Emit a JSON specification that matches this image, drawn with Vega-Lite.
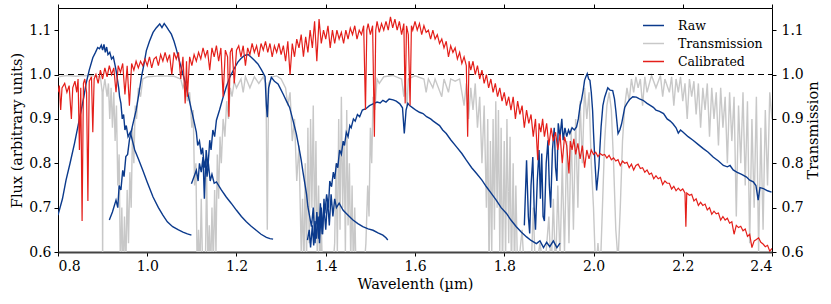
{
"$schema": "https://vega.github.io/schema/vega-lite/v6.json",
"width": 714, "height": 244,
"autosize": {"type": "none"},
"padding": {"left": 58, "top": 8, "right": 59, "bottom": 52},
"background": "white",
"config": {
  "view": {"stroke": "black", "strokeWidth": 1},
  "font": "DejaVu Serif",
  "axis": {"labelFont": "DejaVu Serif", "titleFont": "DejaVu Serif", "labelFontSize": 14, "titleFontSize": 14.5, "titleFontWeight": "normal", "labelColor": "black", "titleColor": "black", "tickColor": "black", "domainColor": "black", "grid": false, "tickSize": 4},
  "legend": {"labelFont": "DejaVu Serif", "labelFontSize": 12.5, "labelColor": "black"}
},
"datasets": {
"trans": [
{"x":0.800,"y":0.995},{"x":0.820,"y":0.998},{"x":0.840,"y":0.996},{"x":0.860,"y":0.998},{"x":0.880,"y":0.997},{"x":0.895,"y":0.995},{"x":0.899,"y":0.96},{"x":0.900,"y":0.55},{"x":0.901,"y":0.96},{"x":0.905,"y":0.99},{"x":0.910,"y":0.95},{"x":0.913,"y":0.98},{"x":0.916,"y":0.9},{"x":0.919,"y":0.97},{"x":0.922,"y":0.88},{"x":0.925,"y":0.96},{"x":0.928,"y":0.85},{"x":0.931,"y":0.93},{"x":0.934,"y":0.75},{"x":0.937,"y":0.82},{"x":0.940,"y":0.55},{"x":0.943,"y":0.7},{"x":0.946,"y":0.55},{"x":0.949,"y":0.68},{"x":0.952,"y":0.56},{"x":0.955,"y":0.74},{"x":0.958,"y":0.62},{"x":0.961,"y":0.78},{"x":0.964,"y":0.7},{"x":0.967,"y":0.88},{"x":0.970,"y":0.8},{"x":0.973,"y":0.93},{"x":0.976,"y":0.9},{"x":0.980,"y":0.97},{"x":0.985,"y":0.95},{"x":0.990,"y":0.99},{"x":1.000,"y":0.995},{"x":1.030,"y":0.997},{"x":1.060,"y":0.996},{"x":1.075,"y":0.99},{"x":1.080,"y":0.97},{"x":1.085,"y":0.985},{"x":1.090,"y":0.94},{"x":1.095,"y":0.96},{"x":1.100,"y":0.88},{"x":1.103,"y":0.92},{"x":1.106,"y":0.75},{"x":1.109,"y":0.8},{"x":1.112,"y":0.55},{"x":1.115,"y":0.65},{"x":1.118,"y":0.55},{"x":1.121,"y":0.72},{"x":1.124,"y":0.57},{"x":1.127,"y":0.6},{"x":1.130,"y":0.55},{"x":1.133,"y":0.78},{"x":1.136,"y":0.56},{"x":1.139,"y":0.66},{"x":1.142,"y":0.55},{"x":1.145,"y":0.7},{"x":1.148,"y":0.57},{"x":1.151,"y":0.74},{"x":1.154,"y":0.6},{"x":1.157,"y":0.82},{"x":1.160,"y":0.72},{"x":1.163,"y":0.86},{"x":1.166,"y":0.8},{"x":1.170,"y":0.9},{"x":1.174,"y":0.86},{"x":1.178,"y":0.94},{"x":1.182,"y":0.9},{"x":1.186,"y":0.97},{"x":1.190,"y":0.95},{"x":1.195,"y":0.985},{"x":1.200,"y":0.97},{"x":1.210,"y":0.99},{"x":1.215,"y":0.96},{"x":1.220,"y":0.995},{"x":1.230,"y":0.97},{"x":1.240,"y":0.995},{"x":1.250,"y":0.98},{"x":1.260,"y":0.995},{"x":1.266,"y":0.98},{"x":1.269,"y":0.65},{"x":1.272,"y":0.98},{"x":1.280,"y":0.995},{"x":1.290,"y":0.997},{"x":1.300,"y":0.99},{"x":1.310,"y":0.97},{"x":1.315,"y":0.93},{"x":1.320,"y":0.96},{"x":1.325,"y":0.85},{"x":1.330,"y":0.9},{"x":1.335,"y":0.76},{"x":1.340,"y":0.84},{"x":1.345,"y":0.6},{"x":1.348,"y":0.72},{"x":1.351,"y":0.55},{"x":1.354,"y":0.8},{"x":1.357,"y":0.58},{"x":1.360,"y":0.88},{"x":1.363,"y":0.62},{"x":1.366,"y":0.9},{"x":1.369,"y":0.7},{"x":1.372,"y":0.93},{"x":1.375,"y":0.65},{"x":1.378,"y":0.85},{"x":1.381,"y":0.58},{"x":1.384,"y":0.75},{"x":1.387,"y":0.55},{"x":1.390,"y":0.66},{"x":1.393,"y":0.55},{"x":1.396,"y":0.6},{"x":1.400,"y":0.55},{"x":1.410,"y":0.58},{"x":1.415,"y":0.55},{"x":1.420,"y":0.62},{"x":1.423,"y":0.8},{"x":1.426,"y":0.6},{"x":1.429,"y":0.9},{"x":1.432,"y":0.65},{"x":1.435,"y":0.95},{"x":1.438,"y":0.7},{"x":1.441,"y":0.85},{"x":1.444,"y":0.6},{"x":1.447,"y":0.92},{"x":1.450,"y":0.66},{"x":1.453,"y":0.8},{"x":1.456,"y":0.58},{"x":1.459,"y":0.75},{"x":1.462,"y":0.55},{"x":1.465,"y":0.7},{"x":1.468,"y":0.55},{"x":1.470,"y":0.58},{"x":1.475,"y":0.55},{"x":1.480,"y":0.6},{"x":1.485,"y":0.55},{"x":1.490,"y":0.62},{"x":1.494,"y":0.75},{"x":1.497,"y":0.68},{"x":1.500,"y":0.88},{"x":1.503,"y":0.8},{"x":1.506,"y":0.95},{"x":1.510,"y":0.92},{"x":1.515,"y":0.99},{"x":1.520,"y":0.98},{"x":1.530,"y":0.995},{"x":1.550,"y":0.998},{"x":1.570,"y":0.99},{"x":1.575,"y":0.95},{"x":1.578,"y":0.99},{"x":1.582,"y":0.93},{"x":1.585,"y":0.99},{"x":1.600,"y":0.997},{"x":1.620,"y":0.99},{"x":1.625,"y":0.96},{"x":1.630,"y":0.99},{"x":1.640,"y":0.97},{"x":1.645,"y":0.99},{"x":1.660,"y":0.95},{"x":1.665,"y":0.99},{"x":1.675,"y":0.96},{"x":1.680,"y":0.99},{"x":1.690,"y":0.985},{"x":1.700,"y":0.99},{"x":1.710,"y":0.93},{"x":1.715,"y":0.98},{"x":1.720,"y":0.9},{"x":1.725,"y":0.97},{"x":1.730,"y":0.92},{"x":1.735,"y":0.98},{"x":1.740,"y":0.88},{"x":1.745,"y":0.95},{"x":1.750,"y":0.8},{"x":1.755,"y":0.93},{"x":1.760,"y":0.7},{"x":1.763,"y":0.9},{"x":1.766,"y":0.55},{"x":1.769,"y":0.85},{"x":1.772,"y":0.6},{"x":1.775,"y":0.9},{"x":1.778,"y":0.65},{"x":1.781,"y":0.94},{"x":1.784,"y":0.7},{"x":1.787,"y":0.92},{"x":1.790,"y":0.6},{"x":1.793,"y":0.88},{"x":1.796,"y":0.55},{"x":1.800,"y":0.85},{"x":1.803,"y":0.58},{"x":1.806,"y":0.9},{"x":1.810,"y":0.62},{"x":1.813,"y":0.86},{"x":1.816,"y":0.55},{"x":1.820,"y":0.8},{"x":1.823,"y":0.55},{"x":1.826,"y":0.75},{"x":1.830,"y":0.55},{"x":1.840,"y":0.65},{"x":1.845,"y":0.55},{"x":1.850,"y":0.6},{"x":1.860,"y":0.55},{"x":1.865,"y":0.7},{"x":1.870,"y":0.55},{"x":1.880,"y":0.62},{"x":1.890,"y":0.55},{"x":1.900,"y":0.68},{"x":1.905,"y":0.55},{"x":1.910,"y":0.72},{"x":1.915,"y":0.55},{"x":1.920,"y":0.75},{"x":1.925,"y":0.58},{"x":1.930,"y":0.8},{"x":1.935,"y":0.6},{"x":1.940,"y":0.85},{"x":1.945,"y":0.62},{"x":1.950,"y":0.88},{"x":1.955,"y":0.65},{"x":1.960,"y":0.9},{"x":1.965,"y":0.7},{"x":1.970,"y":0.94},{"x":1.975,"y":0.8},{"x":1.980,"y":0.97},{"x":1.985,"y":0.9},{"x":1.990,"y":0.96},{"x":1.995,"y":0.8},{"x":2.000,"y":0.7},{"x":2.005,"y":0.55},{"x":2.010,"y":0.62},{"x":2.015,"y":0.55},{"x":2.020,"y":0.7},{"x":2.025,"y":0.85},{"x":2.030,"y":0.93},{"x":2.035,"y":0.96},{"x":2.040,"y":0.92},{"x":2.045,"y":0.8},{"x":2.050,"y":0.65},{"x":2.055,"y":0.58},{"x":2.060,"y":0.7},{"x":2.065,"y":0.85},{"x":2.070,"y":0.93},{"x":2.075,"y":0.97},{"x":2.080,"y":0.94},{"x":2.085,"y":0.99},{"x":2.090,"y":0.96},{"x":2.095,"y":0.995},{"x":2.100,"y":0.97},{"x":2.105,"y":0.99},{"x":2.110,"y":0.93},{"x":2.115,"y":0.995},{"x":2.120,"y":0.96},{"x":2.130,"y":0.998},{"x":2.140,"y":0.97},{"x":2.150,"y":0.998},{"x":2.155,"y":0.95},{"x":2.160,"y":0.99},{"x":2.170,"y":0.96},{"x":2.175,"y":0.995},{"x":2.180,"y":0.93},{"x":2.185,"y":0.99},{"x":2.190,"y":0.96},{"x":2.195,"y":0.995},{"x":2.200,"y":0.94},{"x":2.205,"y":0.98},{"x":2.210,"y":0.9},{"x":2.215,"y":0.99},{"x":2.220,"y":0.95},{"x":2.225,"y":0.985},{"x":2.230,"y":0.91},{"x":2.235,"y":0.98},{"x":2.240,"y":0.88},{"x":2.245,"y":0.97},{"x":2.250,"y":0.92},{"x":2.255,"y":0.98},{"x":2.260,"y":0.86},{"x":2.265,"y":0.97},{"x":2.270,"y":0.9},{"x":2.275,"y":0.96},{"x":2.280,"y":0.84},{"x":2.285,"y":0.97},{"x":2.290,"y":0.88},{"x":2.295,"y":0.95},{"x":2.300,"y":0.8},{"x":2.305,"y":0.96},{"x":2.310,"y":0.85},{"x":2.315,"y":0.95},{"x":2.320,"y":0.68},{"x":2.325,"y":0.93},{"x":2.330,"y":0.8},{"x":2.335,"y":0.96},{"x":2.340,"y":0.75},{"x":2.345,"y":0.94},{"x":2.350,"y":0.62},{"x":2.355,"y":0.9},{"x":2.360,"y":0.7},{"x":2.365,"y":0.95},{"x":2.370,"y":0.6},{"x":2.375,"y":0.88},{"x":2.380,"y":0.65},{"x":2.385,"y":0.92},{"x":2.390,"y":0.75},{"x":2.395,"y":0.96},{"x":2.400,"y":0.9}
],
"raw": [
{"g":"A","x":0.800,"y":0.683},{"g":"A","x":0.810,"y":0.72},{"g":"A","x":0.818,"y":0.762},{"g":"A","x":0.827,"y":0.80},{"g":"A","x":0.837,"y":0.845},{"g":"A","x":0.845,"y":0.885},{"g":"A","x":0.852,"y":0.919},{"g":"A","x":0.858,"y":0.95},{"g":"A","x":0.863,"y":0.98},{"g":"A","x":0.870,"y":1.01},{"g":"A","x":0.878,"y":1.038},{"g":"A","x":0.884,"y":1.05},{"g":"A","x":0.889,"y":1.061},{"g":"A","x":0.893,"y":1.058},{"g":"A","x":0.897,"y":1.066},{"g":"A","x":0.900,"y":1.055},{"g":"A","x":0.903,"y":1.068},{"g":"A","x":0.906,"y":1.05},{"g":"A","x":0.909,"y":1.062},{"g":"A","x":0.912,"y":1.045},{"g":"A","x":0.916,"y":1.05},{"g":"A","x":0.920,"y":1.035},{"g":"A","x":0.924,"y":1.04},{"g":"A","x":0.927,"y":1.025},{"g":"A","x":0.930,"y":1.01},{"g":"A","x":0.933,"y":0.99},{"g":"A","x":0.936,"y":0.97},{"g":"A","x":0.938,"y":0.95},{"g":"A","x":0.941,"y":0.935},{"g":"A","x":0.944,"y":0.90},{"g":"A","x":0.947,"y":0.91},{"g":"A","x":0.950,"y":0.875},{"g":"A","x":0.953,"y":0.885},{"g":"A","x":0.957,"y":0.86},{"g":"A","x":0.962,"y":0.87},{"g":"A","x":0.967,"y":0.85},{"g":"A","x":0.972,"y":0.83},{"g":"A","x":0.980,"y":0.81},{"g":"A","x":0.990,"y":0.784},{"g":"A","x":1.000,"y":0.757},{"g":"A","x":1.013,"y":0.724},{"g":"A","x":1.025,"y":0.70},{"g":"A","x":1.035,"y":0.683},{"g":"A","x":1.045,"y":0.668},{"g":"A","x":1.057,"y":0.657},{"g":"A","x":1.070,"y":0.65},{"g":"A","x":1.080,"y":0.645},{"g":"A","x":1.090,"y":0.641},{"g":"A","x":1.099,"y":0.638},
{"g":"B","x":0.915,"y":0.672},{"g":"B","x":0.922,"y":0.69},{"g":"B","x":0.930,"y":0.717},{"g":"B","x":0.934,"y":0.70},{"g":"B","x":0.937,"y":0.75},{"g":"B","x":0.941,"y":0.74},{"g":"B","x":0.945,"y":0.784},{"g":"B","x":0.948,"y":0.77},{"g":"B","x":0.952,"y":0.815},{"g":"B","x":0.956,"y":0.82},{"g":"B","x":0.960,"y":0.852},{"g":"B","x":0.967,"y":0.885},{"g":"B","x":0.975,"y":0.919},{"g":"B","x":0.981,"y":0.955},{"g":"B","x":0.987,"y":0.994},{"g":"B","x":0.993,"y":1.025},{"g":"B","x":0.998,"y":1.054},{"g":"B","x":1.005,"y":1.075},{"g":"B","x":1.013,"y":1.095},{"g":"B","x":1.020,"y":1.105},{"g":"B","x":1.028,"y":1.114},{"g":"B","x":1.033,"y":1.106},{"g":"B","x":1.038,"y":1.115},{"g":"B","x":1.043,"y":1.108},{"g":"B","x":1.048,"y":1.10},{"g":"B","x":1.054,"y":1.091},{"g":"B","x":1.060,"y":1.075},{"g":"B","x":1.065,"y":1.058},{"g":"B","x":1.070,"y":1.038},{"g":"B","x":1.076,"y":1.016},{"g":"B","x":1.083,"y":0.99},{"g":"B","x":1.091,"y":0.957},{"g":"B","x":1.098,"y":0.925},{"g":"B","x":1.106,"y":0.889},{"g":"B","x":1.110,"y":0.87},{"g":"B","x":1.113,"y":0.84},{"g":"B","x":1.117,"y":0.85},{"g":"B","x":1.121,"y":0.82},{"g":"B","x":1.124,"y":0.835},{"g":"B","x":1.128,"y":0.79},{"g":"B","x":1.131,"y":0.81},{"g":"B","x":1.134,"y":0.77},{"g":"B","x":1.137,"y":0.80},{"g":"B","x":1.141,"y":0.76},{"g":"B","x":1.145,"y":0.775},{"g":"B","x":1.150,"y":0.755},{"g":"B","x":1.155,"y":0.758},{"g":"B","x":1.166,"y":0.74},{"g":"B","x":1.177,"y":0.724},{"g":"B","x":1.188,"y":0.71},{"g":"B","x":1.200,"y":0.694},{"g":"B","x":1.211,"y":0.68},{"g":"B","x":1.222,"y":0.668},{"g":"B","x":1.233,"y":0.658},{"g":"B","x":1.244,"y":0.649},{"g":"B","x":1.255,"y":0.64},{"g":"B","x":1.267,"y":0.633},{"g":"B","x":1.275,"y":0.63},{"g":"B","x":1.282,"y":0.629},
{"g":"C","x":1.099,"y":0.754},{"g":"C","x":1.105,"y":0.77},{"g":"C","x":1.110,"y":0.784},{"g":"C","x":1.114,"y":0.76},{"g":"C","x":1.117,"y":0.80},{"g":"C","x":1.121,"y":0.78},{"g":"C","x":1.125,"y":0.814},{"g":"C","x":1.128,"y":0.72},{"g":"C","x":1.132,"y":0.83},{"g":"C","x":1.136,"y":0.79},{"g":"C","x":1.140,"y":0.852},{"g":"C","x":1.143,"y":0.83},{"g":"C","x":1.147,"y":0.875},{"g":"C","x":1.151,"y":0.86},{"g":"C","x":1.155,"y":0.897},{"g":"C","x":1.162,"y":0.92},{"g":"C","x":1.170,"y":0.949},{"g":"C","x":1.177,"y":0.972},{"g":"C","x":1.185,"y":0.994},{"g":"C","x":1.194,"y":1.012},{"g":"C","x":1.203,"y":1.028},{"g":"C","x":1.210,"y":1.036},{"g":"C","x":1.218,"y":1.043},{"g":"C","x":1.226,"y":1.045},{"g":"C","x":1.233,"y":1.039},{"g":"C","x":1.240,"y":1.032},{"g":"C","x":1.248,"y":1.024},{"g":"C","x":1.255,"y":1.012},{"g":"C","x":1.259,"y":1.005},{"g":"C","x":1.264,"y":0.995},{"g":"C","x":1.267,"y":0.93},{"g":"C","x":1.269,"y":0.904},{"g":"C","x":1.272,"y":0.97},{"g":"C","x":1.278,"y":0.994},{"g":"C","x":1.285,"y":0.985},{"g":"C","x":1.293,"y":0.979},{"g":"C","x":1.297,"y":0.971},{"g":"C","x":1.305,"y":0.955},{"g":"C","x":1.312,"y":0.94},{"g":"C","x":1.319,"y":0.926},{"g":"C","x":1.327,"y":0.895},{"g":"C","x":1.334,"y":0.867},{"g":"C","x":1.340,"y":0.835},{"g":"C","x":1.345,"y":0.807},{"g":"C","x":1.349,"y":0.78},{"g":"C","x":1.353,"y":0.755},{"g":"C","x":1.357,"y":0.73},{"g":"C","x":1.360,"y":0.702},{"g":"C","x":1.364,"y":0.68},{"g":"C","x":1.368,"y":0.657},{"g":"C","x":1.372,"y":0.70},{"g":"C","x":1.376,"y":0.62},{"g":"C","x":1.380,"y":0.69},{"g":"C","x":1.384,"y":0.63},{"g":"C","x":1.388,"y":0.71},{"g":"C","x":1.392,"y":0.64},{"g":"C","x":1.396,"y":0.70},{"g":"C","x":1.400,"y":0.65},{"g":"C","x":1.404,"y":0.72},{"g":"C","x":1.408,"y":0.66},{"g":"C","x":1.412,"y":0.73},{"g":"C","x":1.416,"y":0.68},{"g":"C","x":1.420,"y":0.72},{"g":"C","x":1.424,"y":0.70},{"g":"C","x":1.430,"y":0.71},{"g":"C","x":1.439,"y":0.694},{"g":"C","x":1.450,"y":0.683},{"g":"C","x":1.461,"y":0.672},{"g":"C","x":1.472,"y":0.664},{"g":"C","x":1.483,"y":0.657},{"g":"C","x":1.495,"y":0.652},{"g":"C","x":1.506,"y":0.649},{"g":"C","x":1.517,"y":0.643},{"g":"C","x":1.528,"y":0.638},{"g":"C","x":1.535,"y":0.632},{"g":"C","x":1.539,"y":0.627},
{"g":"D","x":1.359,"y":0.627},{"g":"D","x":1.363,"y":0.65},{"g":"D","x":1.366,"y":0.61},{"g":"D","x":1.370,"y":0.66},{"g":"D","x":1.373,"y":0.615},{"g":"D","x":1.376,"y":0.67},{"g":"D","x":1.379,"y":0.63},{"g":"D","x":1.383,"y":0.68},{"g":"D","x":1.386,"y":0.62},{"g":"D","x":1.390,"y":0.70},{"g":"D","x":1.393,"y":0.64},{"g":"D","x":1.396,"y":0.72},{"g":"D","x":1.398,"y":0.687},{"g":"D","x":1.402,"y":0.73},{"g":"D","x":1.406,"y":0.70},{"g":"D","x":1.409,"y":0.76},{"g":"D","x":1.413,"y":0.747},{"g":"D","x":1.417,"y":0.78},{"g":"D","x":1.420,"y":0.765},{"g":"D","x":1.424,"y":0.80},{"g":"D","x":1.427,"y":0.79},{"g":"D","x":1.431,"y":0.83},{"g":"D","x":1.435,"y":0.82},{"g":"D","x":1.439,"y":0.85},{"g":"D","x":1.442,"y":0.84},{"g":"D","x":1.446,"y":0.87},{"g":"D","x":1.450,"y":0.86},{"g":"D","x":1.454,"y":0.885},{"g":"D","x":1.457,"y":0.88},{"g":"D","x":1.462,"y":0.90},{"g":"D","x":1.466,"y":0.895},{"g":"D","x":1.471,"y":0.91},{"g":"D","x":1.476,"y":0.905},{"g":"D","x":1.482,"y":0.92},{"g":"D","x":1.490,"y":0.923},{"g":"D","x":1.498,"y":0.93},{"g":"D","x":1.506,"y":0.934},{"g":"D","x":1.515,"y":0.938},{"g":"D","x":1.522,"y":0.936},{"g":"D","x":1.528,"y":0.942},{"g":"D","x":1.535,"y":0.938},{"g":"D","x":1.542,"y":0.945},{"g":"D","x":1.551,"y":0.943},{"g":"D","x":1.558,"y":0.94},{"g":"D","x":1.566,"y":0.934},{"g":"D","x":1.572,"y":0.925},{"g":"D","x":1.576,"y":0.867},{"g":"D","x":1.580,"y":0.92},{"g":"D","x":1.584,"y":0.935},{"g":"D","x":1.588,"y":0.93},{"g":"D","x":1.595,"y":0.925},{"g":"D","x":1.603,"y":0.919},{"g":"D","x":1.610,"y":0.915},{"g":"D","x":1.618,"y":0.912},{"g":"D","x":1.626,"y":0.905},{"g":"D","x":1.635,"y":0.90},{"g":"D","x":1.641,"y":0.895},{"g":"D","x":1.648,"y":0.89},{"g":"D","x":1.655,"y":0.885},{"g":"D","x":1.662,"y":0.875},{"g":"D","x":1.670,"y":0.867},{"g":"D","x":1.680,"y":0.853},{"g":"D","x":1.693,"y":0.837},{"g":"D","x":1.705,"y":0.822},{"g":"D","x":1.715,"y":0.807},{"g":"D","x":1.727,"y":0.79},{"g":"D","x":1.738,"y":0.777},{"g":"D","x":1.750,"y":0.762},{"g":"D","x":1.760,"y":0.747},{"g":"D","x":1.771,"y":0.732},{"g":"D","x":1.782,"y":0.717},{"g":"D","x":1.793,"y":0.70},{"g":"D","x":1.805,"y":0.687},{"g":"D","x":1.815,"y":0.672},{"g":"D","x":1.827,"y":0.657},{"g":"D","x":1.838,"y":0.645},{"g":"D","x":1.850,"y":0.634},{"g":"D","x":1.860,"y":0.626},{"g":"D","x":1.872,"y":0.619},{"g":"D","x":1.880,"y":0.625},{"g":"D","x":1.888,"y":0.61},{"g":"D","x":1.895,"y":0.622},{"g":"D","x":1.902,"y":0.612},{"g":"D","x":1.910,"y":0.625},{"g":"D","x":1.918,"y":0.61},{"g":"D","x":1.925,"y":0.62},
{"g":"E","x":1.845,"y":0.66},{"g":"E","x":1.850,"y":0.807},{"g":"E","x":1.854,"y":0.68},{"g":"E","x":1.857,"y":0.642},{"g":"E","x":1.860,"y":0.75},{"g":"E","x":1.864,"y":0.814},{"g":"E","x":1.867,"y":0.70},{"g":"E","x":1.870,"y":0.65},{"g":"E","x":1.874,"y":0.76},{"g":"E","x":1.878,"y":0.83},{"g":"E","x":1.881,"y":0.72},{"g":"E","x":1.884,"y":0.822},{"g":"E","x":1.887,"y":0.68},{"g":"E","x":1.890,"y":0.67},{"g":"E","x":1.894,"y":0.80},{"g":"E","x":1.898,"y":0.852},{"g":"E","x":1.901,"y":0.75},{"g":"E","x":1.904,"y":0.70},{"g":"E","x":1.908,"y":0.83},{"g":"E","x":1.912,"y":0.88},{"g":"E","x":1.915,"y":0.79},{"g":"E","x":1.918,"y":0.76},{"g":"E","x":1.921,"y":0.89},{"g":"E","x":1.925,"y":0.86},{"g":"E","x":1.929,"y":0.90},{"g":"E","x":1.932,"y":0.852},{"g":"E","x":1.936,"y":0.88},{"g":"E","x":1.940,"y":0.86},{"g":"E","x":1.944,"y":0.875},{"g":"E","x":1.947,"y":0.867},{"g":"E","x":1.952,"y":0.88},{"g":"E","x":1.957,"y":0.875},{"g":"E","x":1.962,"y":0.882},{"g":"E","x":1.966,"y":0.90},{"g":"E","x":1.970,"y":0.93},{"g":"E","x":1.973,"y":0.942},{"g":"E","x":1.977,"y":0.965},{"g":"E","x":1.980,"y":0.987},{"g":"E","x":1.983,"y":0.995},{"g":"E","x":1.986,"y":1.002},{"g":"E","x":1.989,"y":0.99},{"g":"E","x":1.992,"y":0.987},{"g":"E","x":1.995,"y":0.96},{"g":"E","x":1.998,"y":0.919},{"g":"E","x":2.000,"y":0.87},{"g":"E","x":2.003,"y":0.807},{"g":"E","x":2.007,"y":0.739},{"g":"E","x":2.012,"y":0.792},{"g":"E","x":2.017,"y":0.882},{"g":"E","x":2.021,"y":0.93},{"g":"E","x":2.025,"y":0.949},{"g":"E","x":2.032,"y":0.97},{"g":"E","x":2.037,"y":0.965},{"g":"E","x":2.043,"y":0.964},{"g":"E","x":2.047,"y":0.945},{"g":"E","x":2.050,"y":0.919},{"g":"E","x":2.055,"y":0.867},{"g":"E","x":2.059,"y":0.875},{"g":"E","x":2.063,"y":0.889},{"g":"E","x":2.070,"y":0.926},{"g":"E","x":2.075,"y":0.935},{"g":"E","x":2.081,"y":0.944},{"g":"E","x":2.088,"y":0.95},{"g":"E","x":2.096,"y":0.949},{"g":"E","x":2.103,"y":0.945},{"g":"E","x":2.111,"y":0.942},{"g":"E","x":2.120,"y":0.935},{"g":"E","x":2.128,"y":0.93},{"g":"E","x":2.134,"y":0.926},{"g":"E","x":2.140,"y":0.92},{"g":"E","x":2.148,"y":0.917},{"g":"E","x":2.157,"y":0.912},{"g":"E","x":2.165,"y":0.90},{"g":"E","x":2.172,"y":0.895},{"g":"E","x":2.178,"y":0.889},{"g":"E","x":2.185,"y":0.88},{"g":"E","x":2.190,"y":0.868},{"g":"E","x":2.195,"y":0.875},{"g":"E","x":2.201,"y":0.87},{"g":"E","x":2.212,"y":0.86},{"g":"E","x":2.223,"y":0.852},{"g":"E","x":2.235,"y":0.842},{"g":"E","x":2.246,"y":0.833},{"g":"E","x":2.257,"y":0.825},{"g":"E","x":2.268,"y":0.814},{"g":"E","x":2.280,"y":0.805},{"g":"E","x":2.291,"y":0.795},{"g":"E","x":2.300,"y":0.792},{"g":"E","x":2.306,"y":0.795},{"g":"E","x":2.313,"y":0.785},{"g":"E","x":2.321,"y":0.78},{"g":"E","x":2.332,"y":0.775},{"g":"E","x":2.343,"y":0.769},{"g":"E","x":2.350,"y":0.762},{"g":"E","x":2.358,"y":0.758},{"g":"E","x":2.364,"y":0.75},{"g":"E","x":2.369,"y":0.717},{"g":"E","x":2.373,"y":0.745},{"g":"E","x":2.381,"y":0.743},{"g":"E","x":2.390,"y":0.738},{"g":"E","x":2.399,"y":0.735}
],
"cal": [
{"x":0.800,"y":0.96},{"x":0.803,"y":0.975},{"x":0.806,"y":0.92},{"x":0.809,"y":0.97},{"x":0.815,"y":0.98},{"x":0.820,"y":0.96},{"x":0.825,"y":0.975},{"x":0.830,"y":0.90},{"x":0.833,"y":0.97},{"x":0.838,"y":0.985},{"x":0.842,"y":0.96},{"x":0.845,"y":0.99},{"x":0.848,"y":0.83},{"x":0.851,"y":0.97},{"x":0.854,"y":0.67},{"x":0.857,"y":0.98},{"x":0.860,"y":0.99},{"x":0.864,"y":0.96},{"x":0.867,"y":0.715},{"x":0.870,"y":0.985},{"x":0.875,"y":0.995},{"x":0.878,"y":0.87},{"x":0.881,"y":0.99},{"x":0.885,"y":1.0},{"x":0.890,"y":0.98},{"x":0.895,"y":1.01},{"x":0.900,"y":0.99},{"x":0.905,"y":1.015},{"x":0.910,"y":0.995},{"x":0.915,"y":1.02},{"x":0.920,"y":1.0},{"x":0.925,"y":1.015},{"x":0.930,"y":0.96},{"x":0.935,"y":1.02},{"x":0.940,"y":1.005},{"x":0.945,"y":1.025},{"x":0.950,"y":0.955},{"x":0.955,"y":1.02},{"x":0.960,"y":0.93},{"x":0.965,"y":1.025},{"x":0.970,"y":1.01},{"x":0.975,"y":1.03},{"x":0.980,"y":1.015},{"x":0.985,"y":1.03},{"x":0.990,"y":1.02},{"x":0.995,"y":1.035},{"x":1.000,"y":1.02},{"x":1.005,"y":1.04},{"x":1.010,"y":1.015},{"x":1.015,"y":1.035},{"x":1.020,"y":1.04},{"x":1.025,"y":1.02},{"x":1.030,"y":1.045},{"x":1.035,"y":1.03},{"x":1.040,"y":1.05},{"x":1.045,"y":1.03},{"x":1.050,"y":1.045},{"x":1.055,"y":1.0},{"x":1.060,"y":1.05},{"x":1.065,"y":1.035},{"x":1.070,"y":1.05},{"x":1.075,"y":0.99},{"x":1.080,"y":1.04},{"x":1.085,"y":0.935},{"x":1.088,"y":1.03},{"x":1.090,"y":0.95},{"x":1.095,"y":1.04},{"x":1.100,"y":1.02},{"x":1.105,"y":1.045},{"x":1.110,"y":1.03},{"x":1.115,"y":1.05},{"x":1.120,"y":1.035},{"x":1.125,"y":1.06},{"x":1.130,"y":1.04},{"x":1.135,"y":1.055},{"x":1.140,"y":1.01},{"x":1.145,"y":1.06},{"x":1.150,"y":1.04},{"x":1.155,"y":1.065},{"x":1.160,"y":1.03},{"x":1.165,"y":1.06},{"x":1.170,"y":0.95},{"x":1.175,"y":1.055},{"x":1.180,"y":1.04},{"x":1.183,"y":0.905},{"x":1.186,"y":1.05},{"x":1.190,"y":1.06},{"x":1.195,"y":0.98},{"x":1.200,"y":1.055},{"x":1.205,"y":1.065},{"x":1.210,"y":1.04},{"x":1.215,"y":1.065},{"x":1.220,"y":1.02},{"x":1.225,"y":1.06},{"x":1.230,"y":1.045},{"x":1.235,"y":1.07},{"x":1.240,"y":1.05},{"x":1.245,"y":1.065},{"x":1.250,"y":1.04},{"x":1.255,"y":1.07},{"x":1.260,"y":1.055},{"x":1.265,"y":1.075},{"x":1.270,"y":1.05},{"x":1.275,"y":1.07},{"x":1.280,"y":1.04},{"x":1.285,"y":1.065},{"x":1.290,"y":1.05},{"x":1.295,"y":1.07},{"x":1.300,"y":1.045},{"x":1.305,"y":1.065},{"x":1.310,"y":1.03},{"x":1.315,"y":1.075},{"x":1.320,"y":1.0},{"x":1.325,"y":1.07},{"x":1.330,"y":1.04},{"x":1.335,"y":1.08},{"x":1.340,"y":1.06},{"x":1.345,"y":1.09},{"x":1.350,"y":1.04},{"x":1.355,"y":1.085},{"x":1.360,"y":1.05},{"x":1.365,"y":1.10},{"x":1.370,"y":1.06},{"x":1.375,"y":1.12},{"x":1.380,"y":1.03},{"x":1.385,"y":1.125},{"x":1.390,"y":1.07},{"x":1.395,"y":1.10},{"x":1.400,"y":1.08},{"x":1.405,"y":1.11},{"x":1.410,"y":1.06},{"x":1.415,"y":1.10},{"x":1.420,"y":1.07},{"x":1.425,"y":1.10},{"x":1.430,"y":1.08},{"x":1.435,"y":1.095},{"x":1.440,"y":1.07},{"x":1.445,"y":1.10},{"x":1.450,"y":1.08},{"x":1.455,"y":1.105},{"x":1.460,"y":1.09},{"x":1.465,"y":1.11},{"x":1.470,"y":1.08},{"x":1.475,"y":1.10},{"x":1.480,"y":1.09},{"x":1.485,"y":1.11},{"x":1.489,"y":0.92},{"x":1.492,"y":1.10},{"x":1.495,"y":1.115},{"x":1.500,"y":1.09},{"x":1.505,"y":1.11},{"x":1.509,"y":0.86},{"x":1.512,"y":1.10},{"x":1.515,"y":1.12},{"x":1.520,"y":1.095},{"x":1.525,"y":1.115},{"x":1.530,"y":1.10},{"x":1.535,"y":1.12},{"x":1.540,"y":1.10},{"x":1.545,"y":1.13},{"x":1.550,"y":1.105},{"x":1.555,"y":1.125},{"x":1.560,"y":1.10},{"x":1.565,"y":1.12},{"x":1.570,"y":1.09},{"x":1.575,"y":1.115},{"x":1.578,"y":0.935},{"x":1.581,"y":1.11},{"x":1.585,"y":1.09},{"x":1.589,"y":0.93},{"x":1.592,"y":1.11},{"x":1.595,"y":1.10},{"x":1.600,"y":1.12},{"x":1.605,"y":1.10},{"x":1.610,"y":1.115},{"x":1.615,"y":1.09},{"x":1.620,"y":1.11},{"x":1.625,"y":1.095},{"x":1.630,"y":1.10},{"x":1.635,"y":1.08},{"x":1.640,"y":1.10},{"x":1.645,"y":1.08},{"x":1.650,"y":1.09},{"x":1.655,"y":1.07},{"x":1.660,"y":1.08},{"x":1.665,"y":1.06},{"x":1.670,"y":1.075},{"x":1.675,"y":1.04},{"x":1.680,"y":1.065},{"x":1.685,"y":1.05},{"x":1.690,"y":1.06},{"x":1.695,"y":1.035},{"x":1.700,"y":1.05},{"x":1.705,"y":1.025},{"x":1.710,"y":1.04},{"x":1.715,"y":1.02},{"x":1.718,"y":0.86},{"x":1.721,"y":1.03},{"x":1.725,"y":1.01},{"x":1.730,"y":1.03},{"x":1.735,"y":1.0},{"x":1.740,"y":1.02},{"x":1.745,"y":0.99},{"x":1.750,"y":1.01},{"x":1.755,"y":0.98},{"x":1.760,"y":1.0},{"x":1.765,"y":0.97},{"x":1.770,"y":0.99},{"x":1.775,"y":0.96},{"x":1.780,"y":0.98},{"x":1.785,"y":0.95},{"x":1.790,"y":0.97},{"x":1.795,"y":0.94},{"x":1.800,"y":0.96},{"x":1.805,"y":0.93},{"x":1.810,"y":0.95},{"x":1.815,"y":0.92},{"x":1.820,"y":0.95},{"x":1.825,"y":0.90},{"x":1.830,"y":0.94},{"x":1.835,"y":0.91},{"x":1.840,"y":0.93},{"x":1.845,"y":0.88},{"x":1.850,"y":0.92},{"x":1.855,"y":0.89},{"x":1.860,"y":0.91},{"x":1.865,"y":0.86},{"x":1.870,"y":0.90},{"x":1.875,"y":0.807},{"x":1.878,"y":0.89},{"x":1.882,"y":0.87},{"x":1.886,"y":0.90},{"x":1.890,"y":0.86},{"x":1.895,"y":0.89},{"x":1.900,"y":0.84},{"x":1.905,"y":0.88},{"x":1.910,"y":0.85},{"x":1.915,"y":0.87},{"x":1.920,"y":0.83},{"x":1.925,"y":0.865},{"x":1.930,"y":0.80},{"x":1.935,"y":0.86},{"x":1.940,"y":0.84},{"x":1.945,"y":0.777},{"x":1.948,"y":0.85},{"x":1.952,"y":0.83},{"x":1.956,"y":0.855},{"x":1.960,"y":0.82},{"x":1.965,"y":0.845},{"x":1.970,"y":0.81},{"x":1.975,"y":0.84},{"x":1.980,"y":0.79},{"x":1.985,"y":0.83},{"x":1.990,"y":0.81},{"x":1.995,"y":0.83},{"x":2.000,"y":0.82},{"x":2.005,"y":0.825},{"x":2.010,"y":0.815},{"x":2.015,"y":0.822},{"x":2.020,"y":0.818},{"x":2.025,"y":0.82},{"x":2.030,"y":0.812},{"x":2.035,"y":0.818},{"x":2.040,"y":0.808},{"x":2.045,"y":0.812},{"x":2.050,"y":0.805},{"x":2.055,"y":0.808},{"x":2.060,"y":0.795},{"x":2.065,"y":0.805},{"x":2.070,"y":0.80},{"x":2.075,"y":0.802},{"x":2.080,"y":0.79},{"x":2.085,"y":0.798},{"x":2.090,"y":0.785},{"x":2.095,"y":0.795},{"x":2.100,"y":0.798},{"x":2.105,"y":0.788},{"x":2.110,"y":0.79},{"x":2.115,"y":0.78},{"x":2.120,"y":0.785},{"x":2.125,"y":0.775},{"x":2.130,"y":0.778},{"x":2.135,"y":0.765},{"x":2.140,"y":0.772},{"x":2.145,"y":0.765},{"x":2.150,"y":0.768},{"x":2.155,"y":0.752},{"x":2.160,"y":0.76},{"x":2.165,"y":0.755},{"x":2.170,"y":0.755},{"x":2.175,"y":0.742},{"x":2.180,"y":0.748},{"x":2.185,"y":0.738},{"x":2.190,"y":0.744},{"x":2.195,"y":0.738},{"x":2.200,"y":0.742},{"x":2.205,"y":0.733},{"x":2.207,"y":0.657},{"x":2.209,"y":0.733},{"x":2.215,"y":0.728},{"x":2.220,"y":0.73},{"x":2.225,"y":0.715},{"x":2.230,"y":0.72},{"x":2.235,"y":0.705},{"x":2.240,"y":0.712},{"x":2.245,"y":0.705},{"x":2.250,"y":0.708},{"x":2.255,"y":0.695},{"x":2.260,"y":0.70},{"x":2.265,"y":0.685},{"x":2.270,"y":0.692},{"x":2.275,"y":0.686},{"x":2.280,"y":0.688},{"x":2.285,"y":0.672},{"x":2.290,"y":0.68},{"x":2.295,"y":0.672},{"x":2.300,"y":0.676},{"x":2.305,"y":0.665},{"x":2.310,"y":0.668},{"x":2.315,"y":0.64},{"x":2.320,"y":0.66},{"x":2.325,"y":0.655},{"x":2.330,"y":0.658},{"x":2.335,"y":0.648},{"x":2.340,"y":0.652},{"x":2.345,"y":0.635},{"x":2.350,"y":0.64},{"x":2.355,"y":0.61},{"x":2.360,"y":0.625},{"x":2.365,"y":0.628},{"x":2.370,"y":0.632},{"x":2.375,"y":0.622},{"x":2.380,"y":0.618},{"x":2.385,"y":0.612},{"x":2.390,"y":0.615},{"x":2.395,"y":0.602},{"x":2.400,"y":0.608}
]
},
"resolve": {"axis": {"x": "independent", "y": "independent"}},
"layer": [
{
  "data": {"name": "trans"},
  "mark": {"type": "line", "clip": true, "strokeWidth": 1.4, "interpolate": "linear"},
  "encoding": {
    "x": {"field": "x", "type": "quantitative", "scale": {"domain": [0.8, 2.4], "nice": false, "zero": false}, "axis": null},
    "y": {"field": "y", "type": "quantitative", "scale": {"domain": [0.6, 1.15], "nice": false, "zero": false}, "axis": {"orient": "right", "title": "Transmission", "titleAngle": 270, "titleBaseline": "top", "values": [0.6, 0.7, 0.8, 0.9, 1.0, 1.1], "format": ".1f", "labelPadding": 5, "titlePadding": 3, "domain": false}},
    "color": {"datum": "Transmission", "scale": {"domain": ["Raw", "Transmission", "Calibrated"], "range": ["#0b3a8c", "#c8c8c8", "#e41f1a"]}, "legend": {"title": null, "orient": "none", "legendX": 584, "legendY": 6, "symbolType": "stroke", "symbolSize": 441, "symbolStrokeWidth": 1.5, "labelOffset": 13, "padding": 0, "rowPadding": 0, "labelFontSize": 12.5}}
  }
},
{
  "data": {"values": [{"a": 1}]},
  "mark": {"type": "rule", "strokeDash": [6, 4], "color": "black", "strokeWidth": 1.1},
  "encoding": {
    "x": {"datum": 0.8, "type": "quantitative", "scale": {"domain": [0.8, 2.4], "nice": false, "zero": false}, "axis": {"orient": "top", "labels": false, "title": null, "values": [0.8, 1.0, 1.2, 1.4, 1.6, 1.8, 2.0, 2.2, 2.4], "domain": false}},
    "x2": {"datum": 2.4},
    "y": {"datum": 1.0, "type": "quantitative", "axis": null}
  }
},
{
  "data": {"name": "raw"},
  "mark": {"type": "line", "clip": true, "strokeWidth": 1.4},
  "encoding": {
    "x": {"field": "x", "type": "quantitative", "axis": {"orient": "bottom", "title": "Wavelenth (µm)", "values": [0.8, 1.0, 1.2, 1.4, 1.6, 1.8, 2.0, 2.2, 2.4], "format": ".1f", "labelPadding": 3, "titlePadding": 4, "domainColor": "#444444", "domainWidth": 2}},
    "y": {"field": "y", "type": "quantitative", "axis": {"orient": "left", "title": "Flux (arbitrary units)", "values": [0.6, 0.7, 0.8, 0.9, 1.0, 1.1], "format": ".1f", "labelPadding": 3, "titlePadding": 4, "domain": false}},
    "detail": {"field": "g"},
    "color": {"datum": "Raw"}
  }
},
{
  "data": {"name": "cal"},
  "mark": {"type": "line", "clip": true, "strokeWidth": 1.2},
  "encoding": {
    "x": {"field": "x", "type": "quantitative", "axis": null},
    "y": {"field": "y", "type": "quantitative", "axis": null},
    "color": {"datum": "Calibrated"}
  }
}
]
}
